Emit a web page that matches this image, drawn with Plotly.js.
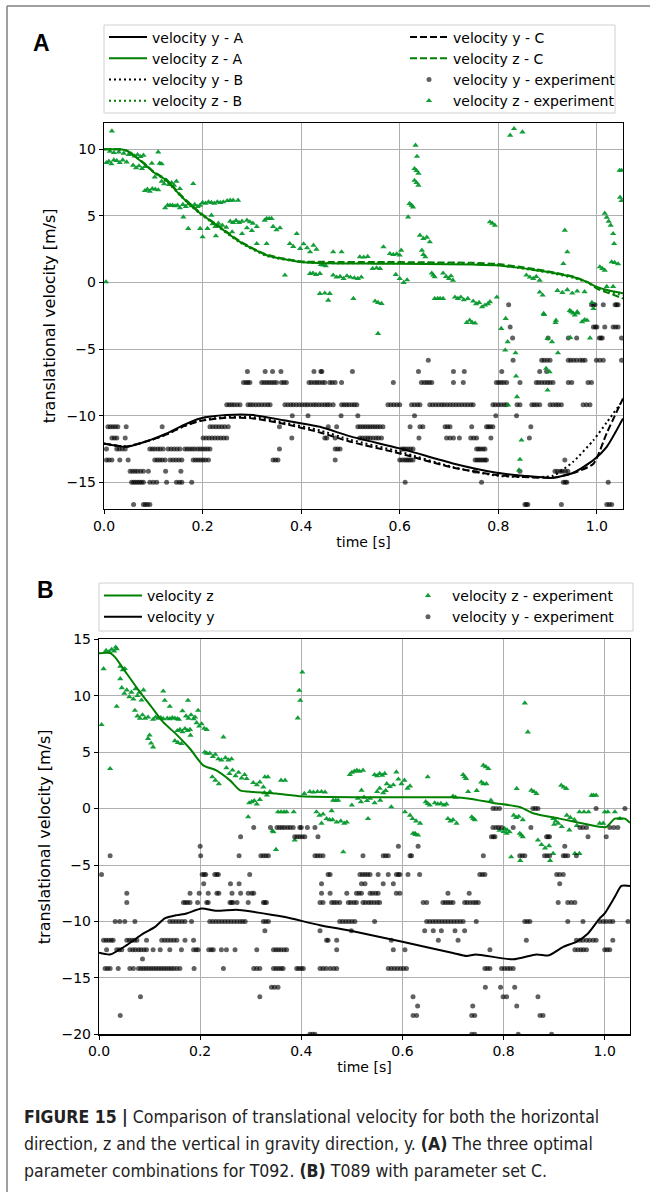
<!DOCTYPE html>
<html><head><meta charset="utf-8">
<script src="https://cdn.plot.ly/plotly-3.0.1.min.js"></script>
<style>html,body{margin:0;padding:0;background:#fff}#chart{width:650px;height:1192px}</style>
</head><body><div id="chart"></div>
<script>
// ---------------- Panel A: model curves ----------------
const aZt = [0, 0.03, 0.046, 0.08, 0.1, 0.127, 0.158, 0.195, 0.229, 0.276, 0.33, 0.398, 0.458, 0.55, 0.65, 0.75, 0.796, 0.84, 0.877, 0.915, 0.952, 0.98, 1.0, 1.025, 1.053];
const aZA = [10, 10, 9.9, 8.95, 8.3, 7.67, 6.42, 5.2, 4.3, 3.05, 2.05, 1.55, 1.45, 1.42, 1.4, 1.35, 1.3, 1.12, 0.92, 0.7, 0.42, 0.05, -0.33, -0.6, -0.8];
const aZB = [10, 10, 9.9, 9.0, 8.3, 7.6, 6.4, 5.15, 4.25, 3.0, 2.0, 1.55, 1.45, 1.45, 1.45, 1.4, 1.3, 1.1, 0.9, 0.65, 0.35, 0.0, -0.4, -0.7, -0.95];
const aZC = [10, 10, 9.9, 9.0, 8.35, 7.7, 6.5, 5.25, 4.35, 3.1, 2.1, 1.6, 1.55, 1.55, 1.52, 1.48, 1.4, 1.2, 1.0, 0.75, 0.45, 0.05, -0.45, -0.8, -1.2];
const aYt = [0, 0.046, 0.093, 0.127, 0.161, 0.195, 0.249, 0.303, 0.364, 0.438, 0.5, 0.6, 0.708, 0.797, 0.85, 0.911, 0.952, 0.993, 1.02, 1.053];
const aYA = [-12.08, -12.33, -11.83, -11.33, -10.7, -10.2, -9.95, -9.95, -10.33, -10.83, -11.55, -12.45, -13.58, -14.28, -14.5, -14.66, -14.28, -13.33, -12.33, -10.2];
const aYB = [-12.1, -12.3, -11.85, -11.4, -10.8, -10.35, -10.1, -10.1, -10.5, -11.1, -11.8, -12.7, -13.85, -14.5, -14.6, -14.5, -13.45, -11.83, -10.5, -8.83];
const aYC = [-12.1, -12.3, -11.85, -11.4, -10.8, -10.4, -10.15, -10.2, -10.6, -11.25, -11.95, -12.83, -13.9, -14.45, -14.6, -14.65, -14.3, -13.6, -11.3, -8.7];

// ---------------- Panel A: experiment y (quantised levels -> times) ----------------
const aYexpRows = [
 [-1.67, [0.821, 0.989, 0.993, 0.996, 1.013, 1.037, 1.04, 1.043]],
 [-3.33, [0.824, 0.993, 0.997, 1.0, 1.016, 1.033, 1.038, 1.043]],
 [-4.17, [0.829, 0.901, 0.942, 0.959, 1.005, 1.008, 1.011, 1.05]],
 [-5.83, [0.658, 0.83, 0.888, 0.893, 0.899, 0.905, 0.942, 0.947, 0.953, 0.959, 0.966, 0.971, 0.976, 0.999, 1.006, 1.013, 1.05]],
 [-6.67, [0.291, 0.327, 0.342, 0.359, 0.426, 0.44, 0.442, 0.504, 0.638, 0.709, 0.731, 0.807, 0.884, 0.898]],
 [-7.5, [0.283, 0.288, 0.292, 0.296, 0.32, 0.325, 0.33, 0.335, 0.34, 0.345, 0.35, 0.36, 0.365, 0.37, 0.416, 0.421, 0.427, 0.432, 0.437, 0.443, 0.448, 0.458, 0.463, 0.469, 0.482, 0.587, 0.644, 0.65, 0.655, 0.66, 0.665, 0.709, 0.729, 0.796, 0.801, 0.806, 0.811, 0.817, 0.844, 0.877, 0.882, 0.888, 0.894, 0.9, 0.905, 0.911, 0.942, 0.949, 0.982, 0.989]],
 [-9.17, [0.249, 0.254, 0.259, 0.264, 0.27, 0.276, 0.292, 0.297, 0.302, 0.308, 0.314, 0.32, 0.326, 0.332, 0.337, 0.367, 0.373, 0.379, 0.384, 0.39, 0.396, 0.402, 0.408, 0.413, 0.419, 0.425, 0.43, 0.436, 0.442, 0.448, 0.453, 0.458, 0.465, 0.482, 0.487, 0.492, 0.497, 0.503, 0.508, 0.513, 0.576, 0.582, 0.588, 0.594, 0.6, 0.624, 0.63, 0.636, 0.641, 0.661, 0.667, 0.673, 0.679, 0.685, 0.69, 0.696, 0.702, 0.708, 0.714, 0.72, 0.726, 0.732, 0.738, 0.744, 0.749, 0.789, 0.794, 0.8, 0.806, 0.812, 0.817, 0.838, 0.844, 0.868, 0.873, 0.878, 0.884, 0.905, 0.911, 0.917, 0.922, 0.928, 0.972, 0.979, 0.986]],
 [-10, [0.382, 0.414, 0.481, 0.515, 0.63, 0.795, 0.837]],
 [-10.83, [0.008, 0.013, 0.018, 0.023, 0.028, 0.045, 0.118, 0.215, 0.221, 0.227, 0.233, 0.239, 0.245, 0.252, 0.356, 0.455, 0.472, 0.515, 0.52, 0.525, 0.53, 0.535, 0.54, 0.545, 0.55, 0.555, 0.56, 0.566, 0.621, 0.641, 0.647, 0.692, 0.697, 0.702, 0.746, 0.776, 0.78, 0.784, 0.789, 0.866]],
 [-11.67, [0.016, 0.021, 0.026, 0.043, 0.201, 0.207, 0.213, 0.219, 0.225, 0.231, 0.237, 0.243, 0.249, 0.381, 0.448, 0.452, 0.469, 0.519, 0.524, 0.53, 0.535, 0.54, 0.546, 0.552, 0.557, 0.563, 0.639, 0.695, 0.702, 0.709, 0.721, 0.744, 0.75, 0.756, 0.785, 0.863]],
 [-12.5, [0.005, 0.026, 0.031, 0.037, 0.043, 0.093, 0.098, 0.103, 0.109, 0.114, 0.12, 0.13, 0.136, 0.142, 0.148, 0.154, 0.164, 0.169, 0.174, 0.179, 0.184, 0.19, 0.195, 0.2, 0.205, 0.21, 0.215, 0.356, 0.469, 0.474, 0.479, 0.604, 0.608, 0.612, 0.617, 0.622, 0.627, 0.756, 0.76, 0.764, 0.769, 0.773]],
 [-13.33, [0.005, 0.01, 0.016, 0.032, 0.049, 0.103, 0.108, 0.113, 0.118, 0.124, 0.134, 0.14, 0.146, 0.152, 0.158, 0.181, 0.186, 0.191, 0.196, 0.201, 0.206, 0.212, 0.343, 0.348, 0.353, 0.469, 0.6, 0.605, 0.61, 0.614, 0.618, 0.622, 0.627, 0.753, 0.757, 0.761, 0.765, 0.769, 0.773, 0.776, 0.935]],
 [-14.17, [0.053, 0.058, 0.063, 0.068, 0.074, 0.08, 0.09, 0.125, 0.156, 0.753, 0.844, 0.915, 0.92, 0.926, 0.93, 0.936, 0.941]],
 [-15, [0.056, 0.06, 0.064, 0.068, 0.072, 0.076, 0.08, 0.093, 0.1, 0.107, 0.127, 0.147, 0.153, 0.158, 0.178, 0.611, 0.766, 0.932, 0.936, 0.939, 1.023]],
 [-16.67, [0.06, 0.08, 0.084, 0.088, 0.093, 0.854, 0.857, 0.86, 0.928, 1.02, 1.025, 1.03]]
];

// ---------------- Panel A: experiment z ([time, velocity]) ----------------
const aZexp = [
 [0.016,11.37],[0.004,0.05],
 [0.005,9.0],[0.01,9.1],[0.015,8.9],[0.02,9.2],[0.026,9.15],[0.032,9.0],[0.038,9.2],[0.046,9.05],
 [0.012,9.85],[0.02,9.75],[0.03,9.8],[0.04,9.7],[0.05,9.6],
 [0.056,9.65],[0.062,9.5],[0.068,9.6],[0.074,9.45],[0.08,9.55],
 [0.059,8.8],[0.065,8.6],[0.071,8.75],[0.077,8.55],[0.083,8.7],
 [0.097,8.95],[0.11,9.8],[0.113,8.95],[0.117,8.9],
 [0.083,6.9],[0.088,7.0],[0.093,6.85],[0.098,7.05],[0.104,7.0],[0.11,6.95],[0.103,7.92],
 [0.117,7.6],[0.122,7.4],[0.127,7.67],[0.132,7.35],[0.137,7.5],[0.142,7.3],[0.147,7.6],
 [0.154,7.05],[0.181,7.42],
 [0.124,5.6],[0.129,5.8],[0.134,5.8],[0.139,5.8],[0.144,5.75],[0.149,5.8],[0.154,5.6],
 [0.16,5.85],[0.166,5.7],[0.172,5.9],[0.178,5.75],[0.184,5.85],[0.19,5.7],[0.195,5.8],
 [0.2,6.0],[0.206,5.95],[0.212,6.05],[0.218,6.0],[0.224,5.95],[0.23,6.05],[0.236,6.0],[0.242,6.05],[0.25,6.15],[0.256,6.17],[0.262,6.17],[0.272,6.17],
 [0.161,4.92],[0.171,4.05],[0.195,4.05],[0.2,3.42],[0.21,4.05],[0.218,5.05],
 [0.22,4.4],[0.226,4.2],[0.232,4.45],[0.24,4.3],[0.248,4.15],[0.227,3.5],
 [0.256,4.6],[0.262,4.5],[0.268,4.65],[0.274,4.5],[0.28,4.6],[0.29,4.67],[0.296,4.55],[0.302,4.45],
 [0.26,3.8],[0.28,3.67],[0.29,4.1],[0.3,3.9],[0.31,4.2],[0.31,2.92],
 [0.326,4.67],[0.33,4.8],[0.335,4.8],[0.34,4.8],[0.33,2.92],
 [0.343,4.2],[0.35,3.95],[0.357,4.1],
 [0.367,0.55],[0.377,2.92],[0.384,2.7],[0.391,3.67],[0.398,2.55],
 [0.405,2.9],[0.412,2.6],[0.418,2.3],[0.425,2.8],[0.431,2.5],
 [0.418,0.67],[0.424,0.7],[0.43,0.6],[0.438,0.67],
 [0.438,-0.83],[0.455,-1.33],
 [0.44,1.35],[0.445,1.3],[0.45,1.25],
 [0.465,2.3],[0.482,2.3],[0.448,-0.8],[0.458,-0.83],
 [0.465,0.55],[0.472,0.4],[0.479,0.45],[0.486,0.3],[0.493,0.5],
 [0.506,-1.2],[0.5,0.4],[0.508,0.35],[0.515,0.3],[0.522,0.4],
 [0.519,1.92],[0.527,1.9],[0.535,1.95],
 [0.55,-1.4],[0.556,-1.5],[0.563,-1.58],
 [0.545,1.05],[0.553,1.1],[0.56,1.05],[0.567,2.67],
 [0.58,2.17],[0.587,2.1],[0.594,2.15],[0.6,2.05],
 [0.592,0.6],[0.6,0.3],[0.608,0.0],[0.615,0.2],
 [0.603,2.42],[0.617,4.92],[0.62,5.93],[0.624,5.8],[0.627,5.67],
 [0.63,7.67],[0.634,7.5],[0.638,7.3],[0.63,8.55],[0.634,8.4],[0.638,8.2],
 [0.632,10.3],[0.635,9.47],
 [0.641,3.55],[0.648,3.3],[0.655,3.4],[0.661,3.05],
 [0.645,2.42],[0.648,2.1],[0.652,1.92],
 [0.665,0.7],[0.668,0.55],[0.671,0.42],
 [0.671,-1.2],[0.677,-1.2],[0.682,-1.2],[0.688,-1.2],
 [0.688,0.7],[0.694,0.45],[0.7,0.3],[0.704,0.5],[0.708,0.17],
 [0.712,-1.1],[0.718,-1.2],[0.724,-1.1],[0.73,-1.3],[0.738,-1.2],
 [0.749,-1.4],[0.755,-1.6],[0.761,-1.5],[0.767,-1.83],[0.773,-1.7],[0.779,-1.6],[0.783,-1.45],
 [0.736,-3.0],[0.783,4.55],[0.788,4.45],[0.793,4.3],[0.797,-1.1],
 [0.824,11.05],[0.832,11.55],[0.849,11.3],
 [0.857,0.55],[0.864,0.4],[0.871,0.3],[0.877,0.45],[0.884,0.17],
 [0.884,-0.72],[0.89,-0.95],[0.892,-2.33],[0.916,-3.0],
 [0.932,1.42],[0.935,3.92],[0.94,2.3],
 [0.92,-0.6],[0.93,-0.75],[0.94,-0.55],[0.95,-0.8],[0.96,-0.65],[0.975,-0.7],
 [0.945,-2.1],[0.952,-2.3],[0.96,-2.2],[0.975,-2.8],
 [1.006,1.17],[1.011,1.05],[1.016,0.92],
 [1.016,5.2],[1.02,4.9],[1.024,4.6],[1.028,4.3],[1.033,3.67],
 [1.03,1.55],[1.036,1.5],[1.043,1.4],[1.035,2.92],
 [1.046,8.42],[1.05,8.42],[1.047,6.4],[1.05,6.15],
 [1.02,-0.3],[1.033,-0.3],[0.556,-3.83],
 [0.742,-2.83],[0.747,-3.0],[0.753,-3.05],
 [0.806,-3.45],[0.815,-2.7],[0.814,-5.08],[0.819,-4.45],[0.82,-9.2],[0.835,-5.28],[0.836,-7.03],[0.838,-8.58],[0.847,-11.83],[0.844,-13.28],[0.842,-14.08],
 [0.893,-2.4],[0.9,-4.2],[0.897,-6.45],[0.904,-6.7],[0.9,-8.08],[0.909,-4.45],[0.917,-2.83],[0.921,-5.28],
 [0.948,-2.2],[0.955,-2.45],[0.961,-2.3],[0.97,-2.95],[0.946,-4.13],[0.98,-2.83],[0.986,-4.17],[0.993,-1.95],[0.99,-1.5]
];

// ---------------- Panel B: model curves ----------------
const bZt = [0, 0.022, 0.032, 0.055, 0.081, 0.104, 0.127, 0.155, 0.18, 0.206, 0.232, 0.259, 0.279, 0.305, 0.35, 0.4, 0.456, 0.55, 0.65, 0.7, 0.733, 0.78, 0.832, 0.86, 0.911, 0.964, 1.003, 1.02, 1.04, 1.05];
const bZ = [13.77, 13.77, 13.4, 11.95, 10.32, 9.0, 7.66, 6.49, 5.3, 3.83, 3.39, 2.5, 1.62, 1.47, 1.33, 1.09, 1.03, 1.0, 1.0, 1.0, 0.88, 0.5, 0.14, -0.44, -0.89, -1.39, -1.63, -0.89, -0.89, -1.27];
const bYt = [0, 0.022, 0.055, 0.088, 0.111, 0.13, 0.154, 0.173, 0.203, 0.232, 0.272, 0.305, 0.365, 0.437, 0.5, 0.6, 0.7, 0.727, 0.745, 0.819, 0.865, 0.89, 0.918, 0.944, 0.967, 0.99, 1.0, 1.02, 1.033, 1.05];
const bY = [-12.78, -12.93, -12.1, -11.06, -10.48, -9.73, -9.44, -9.29, -8.85, -9.06, -8.96, -9.15, -9.59, -10.33, -10.85, -11.8, -12.8, -13.07, -12.93, -13.36, -12.92, -13.0, -12.25, -11.8, -11.06, -9.73, -9.29, -7.82, -6.85, -6.85];

// ---------------- Panel B: experiment y (quantised levels -> times) ----------------
const bYexpRows = [
 [0, [0.779, 0.785, 0.792, 0.858, 0.863, 0.868, 0.983, 1.04]],
 [-1.67, [0.306, 0.339, 0.352, 0.357, 0.362, 0.367, 0.373, 0.378, 0.384, 0.397, 0.4, 0.412, 0.427, 0.779, 0.785, 0.79, 0.796, 0.819, 0.854, 0.951, 0.957, 0.964, 1.01, 1.018, 1.026]],
 [-2.5, [0.28, 0.387, 0.392, 0.397, 0.402, 0.407, 0.433, 0.776, 0.78, 0.783, 0.885, 0.888, 0.891, 0.967, 1.003]],
 [-3.33, [0.2, 0.592, 0.631, 0.921]],
 [-4.17, [0.022, 0.201, 0.277, 0.32, 0.325, 0.33, 0.335, 0.427, 0.432, 0.437, 0.443, 0.522, 0.562, 0.567, 0.572, 0.615, 0.618, 0.76, 0.832, 0.837, 0.842, 0.881, 0.886, 0.891, 0.918, 0.922, 0.927, 0.944]],
 [-5.83, [0.005, 0.204, 0.208, 0.211, 0.229, 0.233, 0.236, 0.298, 0.453, 0.457, 0.516, 0.521, 0.526, 0.531, 0.536, 0.552, 0.572, 0.588, 0.592, 0.595, 0.611, 0.634, 0.753, 0.758, 0.763, 0.905, 0.911, 0.918]],
 [-6.67, [0.207, 0.26, 0.277, 0.44, 0.519, 0.526, 0.562, 0.582, 0.911]],
 [-7.5, [0.055, 0.18, 0.198, 0.216, 0.233, 0.237, 0.263, 0.28, 0.295, 0.302, 0.306, 0.44, 0.457, 0.49, 0.509, 0.514, 0.519, 0.536, 0.541, 0.547, 0.552, 0.588, 0.595, 0.69, 0.732]],
 [-8.33, [0.055, 0.167, 0.171, 0.175, 0.18, 0.195, 0.213, 0.216, 0.259, 0.262, 0.265, 0.273, 0.295, 0.325, 0.328, 0.331, 0.437, 0.443, 0.46, 0.465, 0.47, 0.476, 0.493, 0.498, 0.504, 0.509, 0.522, 0.527, 0.533, 0.538, 0.544, 0.55, 0.555, 0.641, 0.648, 0.68, 0.685, 0.69, 0.695, 0.7, 0.723, 0.728, 0.734, 0.74, 0.745, 0.75, 0.908, 0.927, 0.934, 0.941]],
 [-10, [0.032, 0.041, 0.051, 0.071, 0.14, 0.146, 0.152, 0.158, 0.164, 0.17, 0.183, 0.219, 0.225, 0.231, 0.237, 0.243, 0.249, 0.255, 0.261, 0.267, 0.273, 0.279, 0.284, 0.289, 0.325, 0.33, 0.335, 0.476, 0.482, 0.488, 0.494, 0.5, 0.506, 0.545, 0.648, 0.654, 0.66, 0.666, 0.672, 0.678, 0.684, 0.69, 0.696, 0.702, 0.708, 0.714, 0.72, 0.746, 0.842, 0.847, 0.852, 0.927, 0.957, 0.99, 0.997, 1.003, 1.01, 1.016, 1.046]],
 [-10.83, [0.328, 0.437, 0.499, 0.644, 0.661, 0.677, 0.704, 0.723]],
 [-11.67, [0.009, 0.014, 0.019, 0.024, 0.028, 0.055, 0.06, 0.065, 0.07, 0.075, 0.094, 0.124, 0.13, 0.136, 0.142, 0.148, 0.154, 0.17, 0.187, 0.45, 0.453, 0.47, 0.578, 0.671, 0.71, 0.845, 0.944, 0.951, 0.957, 0.964, 0.97, 0.977, 0.983, 1.016]],
 [-12.5, [0.015, 0.035, 0.04, 0.045, 0.061, 0.067, 0.072, 0.078, 0.083, 0.089, 0.094, 0.107, 0.121, 0.14, 0.163, 0.187, 0.192, 0.196, 0.217, 0.222, 0.226, 0.242, 0.252, 0.269, 0.312, 0.345, 0.35, 0.355, 0.36, 0.366, 0.371, 0.47, 0.582, 0.605, 0.773, 0.941, 0.947, 0.953, 0.958, 0.964, 1.0, 1.005, 1.01]],
 [-13.33, [0.086]],
 [-14.17, [0.012, 0.017, 0.022, 0.038, 0.061, 0.068, 0.078, 0.083, 0.088, 0.093, 0.098, 0.103, 0.108, 0.113, 0.118, 0.123, 0.128, 0.133, 0.138, 0.143, 0.148, 0.154, 0.16, 0.188, 0.246, 0.306, 0.312, 0.318, 0.345, 0.35, 0.355, 0.36, 0.364, 0.391, 0.395, 0.4, 0.404, 0.437, 0.443, 0.449, 0.457, 0.464, 0.47, 0.572, 0.578, 0.584, 0.59, 0.596, 0.602, 0.608, 0.763, 0.768, 0.773, 0.796, 0.802, 0.808, 0.813, 0.819]],
 [-15.83, [0.341, 0.347, 0.354, 0.764, 0.794, 0.822]],
 [-16.67, [0.082, 0.318, 0.621, 0.799, 0.806, 0.868]],
 [-17.5, [0.63, 0.739, 0.826]],
 [-18.33, [0.042, 0.621, 0.628, 0.737, 0.743, 0.872, 0.878]],
 [-20, [0.417, 0.422, 0.427, 0.737, 0.743, 0.829, 0.895]]
];

// ---------------- Panel B: experiment z ([time, velocity]) ----------------
const bZexp = [
 [0.005,7.43],[0.009,12.39],
 [0.014,14.0],[0.02,13.9],[0.025,14.1],[0.03,13.95],[0.035,14.16],[0.033,14.3],
 [0.022,3.54],[0.035,9.05],
 [0.042,12.6],[0.047,12.3],[0.051,12.4],[0.042,11.5],
 [0.045,10.7],[0.05,10.2],[0.055,10.5],[0.06,9.9],[0.064,10.3],[0.068,9.7],
 [0.072,10.6],[0.076,10.0],[0.08,10.3],[0.084,9.6],[0.088,10.5],
 [0.071,8.7],[0.076,8.2],[0.081,8.0],[0.086,8.3],[0.091,8.0],[0.097,8.1],
 [0.097,6.2],[0.1,6.5],[0.103,5.8],[0.107,5.45],
 [0.107,7.9],[0.112,8.1],[0.117,8.0],[0.122,8.05],[0.127,7.96],
 [0.127,10.4],[0.13,9.58],
 [0.135,8.0],[0.14,7.95],[0.145,8.05],[0.15,8.0],[0.155,7.95],[0.14,9.05],
 [0.15,6.0],[0.156,5.85],[0.163,5.75],
 [0.155,6.9],[0.16,7.0],[0.165,6.8],[0.17,7.08],[0.175,6.9],[0.18,7.0],
 [0.158,7.9],[0.165,8.65],[0.176,9.58],
 [0.172,8.2],[0.177,8.0],[0.182,8.3],[0.187,7.96],[0.19,8.1],
 [0.181,6.49],[0.196,8.7],
 [0.193,7.6],[0.198,7.3],[0.203,7.5],[0.208,7.1],[0.213,7.0],
 [0.209,5.0],[0.213,4.9],
 [0.219,4.9],[0.225,4.6],[0.23,4.8],[0.236,4.4],[0.242,4.3],
 [0.224,2.8],[0.23,2.5],[0.237,2.2],[0.246,6.34],
 [0.25,4.5],[0.256,4.3],[0.262,4.4],
 [0.252,3.6],[0.258,3.1],[0.264,3.4],[0.27,2.9],[0.276,3.2],[0.282,2.7],[0.288,3.0],[0.292,2.65],
 [0.295,-0.74],
 [0.297,0.5],[0.302,0.6],[0.307,0.7],[0.312,0.4],[0.318,0.8],
 [0.305,2.3],[0.312,2.1],[0.318,2.35],[0.325,1.91],
 [0.328,2.8],[0.334,2.8],[0.327,1.4],[0.332,1.2],[0.338,1.5],
 [0.343,-1.98],
 [0.354,-0.3],[0.36,-0.3],[0.366,-0.3],[0.371,-0.3],
 [0.36,2.5],[0.368,2.5],[0.385,-0.3],
 [0.393,8.02],[0.396,10.47],[0.398,9.58],[0.402,12.09],
 [0.406,1.33],
 [0.417,1.5],[0.424,1.45],[0.432,1.5],[0.44,1.5],[0.447,1.45],
 [0.43,-0.3],[0.436,-0.6],[0.443,-0.5],[0.45,-0.9],[0.456,-1.0],
 [0.345,-2.07],[0.35,-3.63],[0.387,-2.8],[0.44,-1.3],
 [0.46,-0.2],[0.463,0.73],[0.468,0.73],[0.473,0.73],
 [0.462,-1.0],[0.47,-1.2],[0.478,-1.1],[0.485,-1.3],[0.49,-1.2],
 [0.496,3.0],[0.5,3.2],[0.505,3.3],[0.51,3.39],[0.515,3.3],[0.522,3.39],
 [0.5,0.3],[0.519,1.62],[0.532,-0.89],
 [0.512,0.9],[0.518,0.6],[0.524,1.0],[0.53,0.7],[0.536,0.9],[0.545,0.5],
 [0.545,3.0],[0.55,2.9],[0.555,3.1],[0.56,2.95],[0.565,3.1],
 [0.55,1.5],[0.555,1.8],[0.562,1.4],[0.567,1.6],[0.556,0.73],
 [0.569,2.2],[0.575,1.95],[0.582,2.1],[0.578,0.15],
 [0.588,3.24],[0.592,2.6],[0.598,2.2],[0.604,2.5],[0.61,1.8],[0.615,2.0],
 [0.605,-0.3],[0.615,-0.6],[0.62,-0.9],[0.627,-1.1],[0.635,-1.3],[0.625,-2.2],
 [0.646,0.6],[0.65,0.45],[0.654,0.3],[0.65,2.8],
 [0.664,0.5],[0.67,0.4],[0.676,0.45],[0.682,0.3],[0.687,0.4],
 [0.69,-0.9],[0.695,-1.1],[0.7,-1.0],[0.707,-1.3],
 [0.7,1.1],[0.705,1.0],
 [0.72,3.0],[0.723,2.8],[0.726,2.65],[0.73,1.5],
 [0.737,-0.74],[0.74,-0.9],[0.743,-1.0],
 [0.747,1.6],[0.756,2.35],
 [0.76,3.83],[0.765,3.7],[0.77,3.54],[0.76,2.2],[0.766,2.2],[0.775,0.73],
 [0.802,-1.77],[0.807,-1.9],[0.812,-2.07],[0.826,1.77],
 [0.82,-0.6],[0.825,-0.8],[0.83,-0.7],[0.838,-1.0],
 [0.832,-2.2],[0.835,-2.35],[0.838,-2.5],
 [0.842,9.35],[0.848,6.78],
 [0.855,1.62],[0.86,1.5],[0.865,1.33],
 [0.898,-0.9],[0.903,-1.1],[0.908,-1.3],
 [0.914,2.06],[0.919,1.9],[0.924,1.77],
 [0.925,-0.6],[0.932,-0.8],[0.94,-1.0],
 [0.95,-0.3],[0.959,-0.3],[0.968,-0.3],
 [0.974,1.18],[0.978,1.18],[0.983,1.18],
 [0.99,-1.3],[0.997,-1.3],[1.0,-0.3],[1.006,-0.3],[1.02,-0.3],[1.03,-0.9],
 [0.483,-3.84],[0.621,-2.2],[0.626,-2.3],[0.631,-2.36],
 [0.792,-1.92],[0.8,-2.05],[0.806,-2.2],[0.815,-4.28],[0.833,-4.6],
 [0.868,-2.8],[0.875,-3.2],[0.882,-3.5],[0.89,-3.3],[0.898,-3.98],[0.892,-4.6],
 [0.941,-3.98],[0.95,-3.98],
 [0.9,-1.4],[0.915,-1.6],[0.93,-1.9],[0.945,-1.5]
];

// ---------------- tick labels / texts ----------------
const xTicks = [0, 0.2, 0.4, 0.6, 0.8, 1.0];
const aYTicks = [-15, -10, -5, 0, 5, 10];
const bYTicks = [-20, -15, -10, -5, 0, 5, 10, 15];
const captionLines = [
 "<b>FIGURE 15 |</b> Comparison of translational velocity for both the horizontal",
 "direction, z and the vertical in gravity direction, y. <b>(A)</b> The three optimal",
 "parameter combinations for T092. <b>(B)</b> T089 with parameter set C."
];

// ---------------- build ----------------
const W = 650, H = 1192;
const px = x => x / W, py = y => 1 - y / H;
function rowsToXY(rows){ const t=[], v=[]; rows.forEach(r => r[1].forEach(tt => { t.push(tt); v.push(r[0]); })); return {t, v}; }
function pairsToXY(p){ return {t: p.map(d=>d[0]), v: p.map(d=>d[1])}; }

const GREEN = '#008000', TRI = 'rgba(0,150,40,0.92)', DOT = 'rgba(0,0,0,0.62)';
const FONT = 'DejaVu Sans, Verdana, sans-serif';
const aYe = rowsToXY(aYexpRows), aZe = pairsToXY(aZexp), bYe = rowsToXY(bYexpRows), bZe = pairsToXY(bZexp);

function pts(xy, name, color, sym, size, xa, ya, leg, rank){
  return {x: xy.t, y: xy.v, type:'scatter', mode:'markers', name, xaxis:xa, yaxis:ya, legend:leg, legendrank:rank,
    marker:{color, symbol:sym, size, line:{width:0}}, hoverinfo:'skip'};
}
function line(t, v, name, color, dash, xa, ya, leg, rank){
  return {x:t, y:v, type:'scatter', mode:'lines', name, xaxis:xa, yaxis:ya, legend:leg, legendrank:rank,
    line:{color, width:2, dash, shape:'spline', smoothing:0.6}, hoverinfo:'skip'};
}
const DASH = '7px,3px', DOTS = '2px,3px';
const traces = [
  pts(aYe, 'velocity y - experiment', DOT, 'circle', 5, 'x', 'y', 'legend2', 3),
  pts(aZe, 'velocity z - experiment', TRI, 'triangle-up', 5.5, 'x', 'y', 'legend2', 4),
  line(aYt, aYA, 'velocity y - A', '#000', 'solid', 'x', 'y', 'legend', 1),
  line(aZt, aZA, 'velocity z - A', GREEN, 'solid', 'x', 'y', 'legend', 2),
  line(aYt, aYB, 'velocity y - B', '#000', DOTS, 'x', 'y', 'legend', 3),
  line(aZt, aZB, 'velocity z - B', GREEN, DOTS, 'x', 'y', 'legend', 4),
  line(aYt, aYC, 'velocity y - C', '#000', DASH, 'x', 'y', 'legend2', 1),
  line(aZt, aZC, 'velocity z - C', GREEN, DASH, 'x', 'y', 'legend2', 2),
  pts(bZe, 'velocity z - experiment', TRI, 'triangle-up', 5.5, 'x2', 'y2', 'legend4', 1),
  pts(bYe, 'velocity y - experiment', DOT, 'circle', 5, 'x2', 'y2', 'legend4', 2),
  line(bZt, bZ, 'velocity z', GREEN, 'solid', 'x2', 'y2', 'legend3', 1),
  line(bYt, bY, 'velocity y', '#000', 'solid', 'x2', 'y2', 'legend3', 2)
];

function xax(dom, range, anchor){
  return {domain: dom, range, anchor, tickvals: xTicks, tickformat: '.1f', showgrid:true, gridcolor:'#b0b0b0', gridwidth:1,
    zeroline:false, showline:true, mirror:true, linecolor:'#000', linewidth:1.2, ticks:'outside', ticklen:4, tickcolor:'#000',
    tickfont:{family:FONT, size:14, color:'#000'}, title:{text:'time [s]', font:{family:FONT, size:14, color:'#000'}, standoff:4}, automargin:false};
}
function yax(dom, range, anchor, tv){
  return {domain: dom, range, anchor, tickvals: tv, showgrid:true, gridcolor:'#b0b0b0', gridwidth:1,
    zeroline:false, showline:true, mirror:true, linecolor:'#000', linewidth:1.2, ticks:'outside', ticklen:4, tickcolor:'#000',
    tickfont:{family:FONT, size:14, color:'#000'}, title:{text:'translational velocity [m/s]', font:{family:FONT, size:16, color:'#000'}, standoff:6}, automargin:false};
}
function leg(x, y){
  return {x:px(x), y:py(y), xanchor:'left', yanchor:'top', orientation:'v', bgcolor:'rgba(0,0,0,0)', borderwidth:0,
    itemwidth:38, tracegroupgap:0, traceorder:'normal', font:{family:FONT, size:14, color:'#000'}, itemclick:false, itemdoubleclick:false};
}

const layout = {
  width: W, height: H, margin:{l:0, r:0, t:0, b:0}, paper_bgcolor:'#fff', plot_bgcolor:'#fff', showlegend:true,
  xaxis: xax([px(104), px(623)], [0, 1.053], 'y'),
  yaxis: yax([py(509), py(122.7)], [-17, 12], 'x', aYTicks),
  xaxis2: xax([px(99), px(630)], [0, 1.05], 'y2'),
  yaxis2: yax([py(1034.3), py(639.3)], [-20, 15], 'x2', bYTicks),
  legend: leg(104, 21.5), legend2: leg(405, 21.5), legend3: leg(99, 580), legend4: leg(404, 580),
  shapes: [
    {type:'rect', xref:'paper', yref:'paper', x0:px(104), x1:px(615), y0:py(113), y1:py(25), line:{color:'#d0d0d0', width:1}, fillcolor:'rgba(255,255,255,0.8)', layer:'below'},
    {type:'rect', xref:'paper', yref:'paper', x0:px(99), x1:px(633), y0:py(631), y1:py(583), line:{color:'#d0d0d0', width:1}, fillcolor:'rgba(255,255,255,0.8)', layer:'below'},
    {type:'line', xref:'paper', yref:'paper', x0:px(7), x1:px(650), y0:py(6), y1:py(6), line:{color:'#808080', width:1.5}},
    {type:'line', xref:'paper', yref:'paper', x0:px(7), x1:px(7), y0:py(6), y1:py(1192), line:{color:'#808080', width:1.5}}
  ],
  annotations: [
    {text:'<b>A</b>', xref:'paper', yref:'paper', x:px(41), y:py(43), xanchor:'center', yanchor:'middle', showarrow:false, font:{family:'Liberation Sans, Arial, sans-serif', size:23, color:'#000'}},
    {text:'<b>B</b>', xref:'paper', yref:'paper', x:px(45), y:py(590), xanchor:'center', yanchor:'middle', showarrow:false, font:{family:'Liberation Sans, Arial, sans-serif', size:23, color:'#000'}}
  ].concat(captionLines.map((t, i) => ({text:t, xref:'paper', yref:'paper', x:px(22), y:py(1117 + 27*i), xanchor:'left', yanchor:'middle', showarrow:false,
    font:{family:'Liberation Sans Narrow, DejaVu Sans Condensed, Arial Narrow, sans-serif', size:17.5, color:'#222'}})))
};

Plotly.newPlot('chart', traces, layout, {staticPlot:true, displayModeBar:false});
</script></body></html>
